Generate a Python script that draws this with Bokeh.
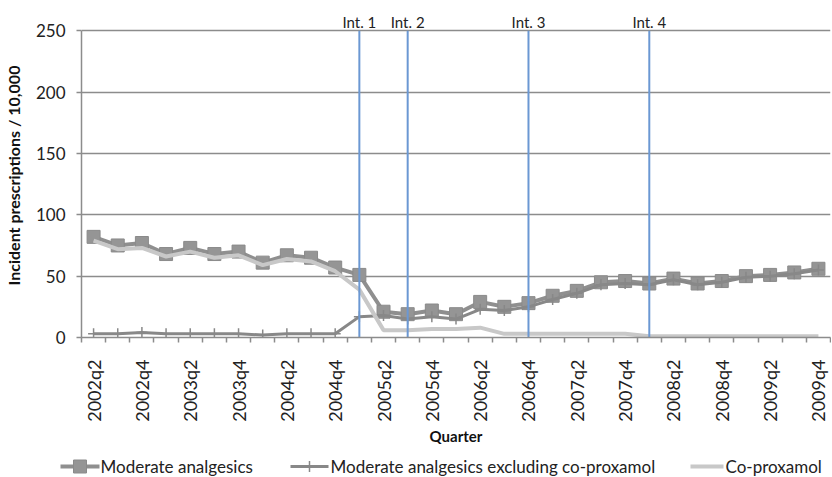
from bokeh.plotting import figure
from bokeh.layouts import column
from bokeh.models import Range1d, FixedTicker, Label, ColumnDataSource
from bokeh.core.properties import value
from bokeh.embed import file_html
from bokeh.resources import INLINE

quarters = ["2002q2", "2002q3", "2002q4", "2003q1", "2003q2", "2003q3", "2003q4",
            "2004q1", "2004q2", "2004q3", "2004q4", "2005q1", "2005q2", "2005q3",
            "2005q4", "2006q1", "2006q2", "2006q3", "2006q4", "2007q1", "2007q2",
            "2007q3", "2007q4", "2008q1", "2008q2", "2008q3", "2008q4", "2009q1",
            "2009q2", "2009q3", "2009q4"]
moderate = [82, 75, 77, 68, 73, 68, 70, 61, 67, 65, 57, 51, 21, 19, 22, 19,
            29, 25, 28, 34, 38, 45, 46, 44, 48, 44, 46, 50, 51, 53, 56]
excl_coprox = [3, 3, 4, 3, 3, 3, 3, 2, 3, 3, 3, 17, 18, 15, 17, 15,
               23, 22, 25, 31, 36, 43, 44, 43, 47, 43, 45, 49, 50, 52, 55]
coproxamol = [79, 72, 73, 66, 70, 65, 67, 59, 64, 62, 54, 39, 6, 6, 7, 7,
              8, 3, 3, 3, 3, 3, 3, 1, 1, 1, 1, 1, 1, 1, 1]
series_names = ["Moderate analgesics", "Moderate analgesics excluding co-proxamol",
                "Co-proxamol"]
interventions = ["Int. 1", "Int. 2", "Int. 3", "Int. 4"]
intervention_quarters = ["2005q1", "2005q3", "2006q4", "2008q1"]
y_ticks = [0, 50, 100, 150, 200, 250]
Y_MAX = 250

FONT = "Lato"
C_MOD_LINE, C_MOD_FILL = "#8f8f8f", "#959595"
C_EXCL = "#888888"
C_COP = "#c8c8c8"
W = 831
idx = list(range(len(quarters)))
src = ColumnDataSource(dict(x=idx, q=quarters, m=moderate, e=excl_coprox, c=coproxamol))

p = figure(width=W, height=456, output_backend="svg", toolbar_location=None,
           x_range=Range1d(-0.5, len(quarters) - 0.5), y_range=Range1d(0, 264),
           min_border_left=81, min_border_right=1, min_border_top=13,
           min_border_bottom=119)
p.outline_line_color = None
p.background_fill_color = "white"
p.frame_align = False

# axes
xa = p.xaxis[0]
label_idx = [i for i in idx if i % 2 == 0]
xa.ticker = FixedTicker(ticks=label_idx, minor_ticks=[i - 0.5 for i in range(len(quarters) + 1)])
xa.major_label_overrides = {i: quarters[i] for i in label_idx}
xa.major_label_orientation = 1.5708
xa.major_tick_out = 0
xa.major_tick_in = 0
xa.minor_tick_out = 5
xa.minor_tick_in = 0
xa.minor_tick_line_color = "#8c8c8c"
xa.minor_tick_line_width = 1.5
xa.axis_line_color = "#8c8c8c"
xa.axis_line_width = 1.5
xa.major_label_text_font = FONT
xa.major_label_text_font_size = "18px"
xa.major_label_text_color = "#222222"
xa.major_label_standoff = 17
xa.axis_label = "Quarter"
xa.axis_label_text_font = FONT
xa.axis_label_text_font_style = "bold"
xa.axis_label_text_font_size = "15px"
xa.axis_label_text_color = "#111111"
xa.axis_label_standoff = 2

ya = p.yaxis[0]
ya.ticker = FixedTicker(ticks=y_ticks, minor_ticks=[])
ya.bounds = (0, Y_MAX)
ya.major_tick_out = 5
ya.major_tick_in = 0
ya.major_tick_line_color = "#8c8c8c"
ya.major_tick_line_width = 1.5
ya.axis_line_color = "#8c8c8c"
ya.axis_line_width = 1.5
ya.major_label_text_font = FONT
ya.major_label_text_font_size = "17px"
ya.major_label_text_color = "#222222"
ya.major_label_standoff = 11
ya.axis_label = "Incident prescriptions / 10,000"
ya.axis_label_text_font = FONT
ya.axis_label_text_font_style = "bold"
ya.axis_label_text_font_size = "16px"
ya.axis_label_text_color = "#111111"
ya.axis_label_standoff = 10

p.xgrid.visible = False
p.ygrid.ticker = FixedTicker(ticks=y_ticks)
p.ygrid.grid_line_color = "#8c8c8c"
p.ygrid.grid_line_width = 1.5

# series
p.line("x", "m", source=src, line_color=C_MOD_LINE, line_width=4)
p.scatter("x", "m", source=src, marker="square", size=13,
          fill_color=C_MOD_FILL, line_color="#8a8a8a", line_width=1)
p.line("x", "e", source=src, line_color=C_EXCL, line_width=3)
p.scatter("x", "e", source=src, marker="cross", size=11,
          line_color=C_EXCL, line_width=1.5)
p.line("x", "c", source=src, line_color=C_COP, line_width=4)

# interventions
int_x = [quarters.index(q) for q in intervention_quarters]
p.segment(x0=int_x, y0=[0] * len(int_x), x1=int_x, y1=[Y_MAX] * len(int_x),
          line_color="#6b98d3", line_width=2)
for name, xi in zip(interventions, int_x):
    p.add_layout(Label(x=xi, y=257, text=name, text_align="center",
                       text_baseline="middle", text_font=FONT,
                       text_font_size="15px", text_color="#222222"))

# legend strip (pixel coordinate space)
LH = 20
p2 = figure(width=W, height=LH, output_backend="svg", toolbar_location=None,
            x_range=Range1d(0, W), y_range=Range1d(0, LH),
            x_axis_location=None, y_axis_location=None,
            min_border_left=0, min_border_right=0, min_border_top=0, min_border_bottom=0)
p2.frame_align = False
p2.grid.visible = False
p2.outline_line_color = None
g_x0 = [60, 290, 690]
g_x1 = [99, 328, 723]
t_x = [100, 330, 725]
mid = LH / 2
p2.segment(x0=g_x0[0:1], y0=[mid], x1=g_x1[0:1], y1=[mid], line_color=C_MOD_LINE, line_width=4)
p2.scatter(x=[(g_x0[0] + g_x1[0]) / 2], y=[mid], marker="square", size=13,
           fill_color=C_MOD_FILL, line_color="#8a8a8a", line_width=1)
p2.segment(x0=g_x0[1:2], y0=[mid], x1=g_x1[1:2], y1=[mid], line_color=C_EXCL, line_width=3)
p2.scatter(x=[(g_x0[1] + g_x1[1]) / 2], y=[mid], marker="cross", size=11,
           line_color=C_EXCL, line_width=1.5)
p2.segment(x0=g_x0[2:3], y0=[mid], x1=g_x1[2:3], y1=[mid], line_color=C_COP, line_width=4)
p2.text(x=t_x, y=[mid] * 3, text=series_names, text_align="left",
        text_baseline="middle", text_font=value(FONT), text_font_size="17px",
        text_color="#222222")

layout = column(p, p2, spacing=0)
open("out.html", "w").write(file_html(layout, INLINE))
